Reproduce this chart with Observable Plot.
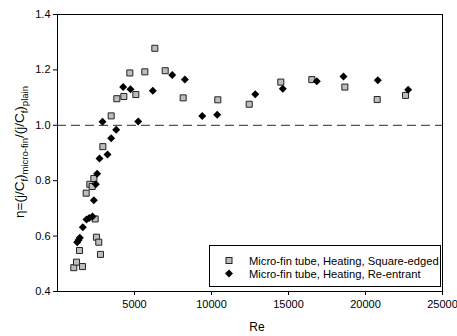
<!DOCTYPE html>
<html>
<head>
<meta charset="utf-8">
<script src="https://cdn.jsdelivr.net/npm/d3@7"></script>
<script src="https://cdn.jsdelivr.net/npm/@observablehq/plot@0.6"></script>
<style>
  html, body { margin: 0; padding: 0; background: #fff; }
  #chart svg { display: block; }
</style>
</head>
<body>
<div id="chart"></div>
<script>
// Square-edged series
const sqRe  = [1060, 1234, 1623, 1429, 1862, 2100, 2250, 2360, 2445, 2530, 2680, 2790,
               2945, 3485, 3853, 4308, 4697, 5087, 5671, 6320, 6993,
               8160, 10410, 12450, 14500, 16515, 18660, 20760, 22600];
const sqEta = [0.486, 0.506, 0.490, 0.548, 0.755, 0.787, 0.779, 0.808, 0.662, 0.596, 0.578, 0.534,
               0.923, 1.034, 1.096, 1.104, 1.189, 1.111, 1.193, 1.278, 1.197,
               1.099, 1.092, 1.076, 1.156, 1.165, 1.138, 1.093, 1.108];
// Re-entrant series
const diRe  = [1277, 1370, 1450, 1645, 1883, 2057, 2273, 2360, 2490, 2575, 2727, 3247,
               3485, 3810, 2922, 4264, 4740, 5240, 6190, 7450,
               8270, 9400, 10370, 12840, 14630, 16840, 18570, 20800, 22770];
const diEta = [0.578, 0.586, 0.594, 0.632, 0.660, 0.665, 0.671, 0.729, 0.787, 0.825, 0.880, 0.895,
               0.953, 0.984, 1.013, 1.138, 1.130, 1.014, 1.125, 1.182,
               1.165, 1.034, 1.038, 1.112, 1.132, 1.159, 1.176, 1.163, 1.128];
const xTicks = [5000, 10000, 15000, 20000, 25000];
const yTicks = [0.4, 0.6, 0.8, 1.0, 1.2, 1.4];
const refLine = [1.0];
const legendLabels = ["Micro-fin tube, Heating, Square-edged", "Micro-fin tube, Heating, Re-entrant"];

const sq = sqRe.map((x, i) => ({x, y: sqEta[i]}));
const di = diRe.map((x, i) => ({x, y: diEta[i]}));

const chart = Plot.plot({
  width: 457,
  height: 336,
  marginLeft: 57,
  marginRight: 15,
  marginTop: 14,
  marginBottom: 45,
  style: {fontFamily: "'Liberation Sans', Arial, sans-serif", fontSize: "11px", color: "#000", background: "#fff"},
  x: {domain: [0, 25000], ticks: xTicks, tickSize: 4, tickFormat: d => String(d), label: null},
  y: {domain: [0.4, 1.4], ticks: yTicks, tickSize: 4, tickFormat: d3.format(".1f"), label: null},
  marks: [
    Plot.ruleY(refLine, {stroke: "#555", strokeWidth: 1.2, strokeDasharray: "9,5"}),
    Plot.dot(sq, {x: "x", y: "y", symbol: "square", r: 3.4, fill: "#bdbdbd", stroke: "#222", strokeWidth: 1}),
    Plot.dot(di, {x: "x", y: "y", symbol: "diamond2", r: 3.6, fill: "#000", stroke: "none"}),
    Plot.axisX({ticks: xTicks, tickSize: 4, tickPadding: 5, tickFormat: d => String(d), label: null}),
    Plot.axisY({ticks: yTicks, tickSize: 4, tickPadding: 3, tickFormat: d3.format(".1f"), label: null}),
    Plot.frame({stroke: "#000", strokeWidth: 1})
  ]
});

const svg = d3.select(chart);
const font = "'Liberation Sans', Arial, sans-serif";

// x-axis title
svg.append("text")
  .attr("x", 257).attr("y", 331)
  .attr("text-anchor", "middle")
  .attr("font-family", font).attr("font-size", 12)
  .text("Re");

// y-axis title with subscripts
const yt = svg.append("text")
  .attr("transform", "translate(24,152) rotate(-90)")
  .attr("text-anchor", "middle")
  .attr("font-family", font).attr("font-size", 13.5);
yt.append("tspan").text("η=(j/C");
yt.append("tspan").attr("font-size", 9.5).attr("dy", 3.5).text("f");
yt.append("tspan").attr("dy", -3.5).text(")");
yt.append("tspan").attr("font-size", 9.5).attr("dy", 3.5).text("micro-fin");
yt.append("tspan").attr("dy", -3.5).text("/(j/C");
yt.append("tspan").attr("font-size", 9.5).attr("dy", 3.5).text("f");
yt.append("tspan").attr("dy", -3.5).text(")");
yt.append("tspan").attr("font-size", 9.5).attr("dy", 3.5).text("plain");

// legend
const lg = svg.append("g").attr("text-anchor", "start");
lg.append("rect").attr("x", 209.5).attr("y", 245.5).attr("width", 231).attr("height", 41)
  .attr("fill", "#fff").attr("stroke", "#000").attr("stroke-width", 1);
lg.append("rect").attr("x", 226).attr("y", 257.5).attr("width", 6).attr("height", 6)
  .attr("fill", "#bdbdbd").attr("stroke", "#222").attr("stroke-width", 1);
lg.append("path").attr("d", d3.symbol(d3.symbolDiamond2, 40)()).attr("transform", "translate(229,273.5)")
  .attr("fill", "#000");
legendLabels.forEach((t, i) => {
  lg.append("text").attr("x", 249).attr("y", 264.5 + i * 13)
    .attr("text-anchor", "start")
    .attr("font-family", font).attr("font-size", 11.2).text(t);
});

document.getElementById("chart").appendChild(chart);
</script>
</body>
</html>
